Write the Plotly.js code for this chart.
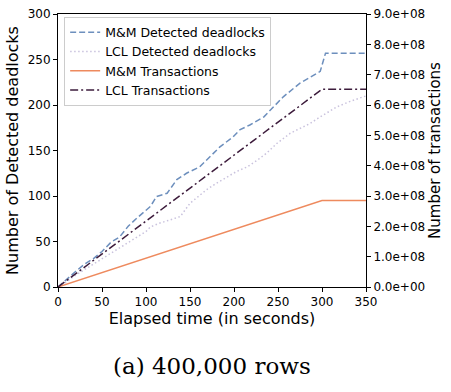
<!DOCTYPE html>
<html><head><meta charset="utf-8">
<script src="https://cdn.plot.ly/plotly-3.0.1.min.js"></script>
<style>body{margin:0;background:#fff}#c{width:451px;height:392px}</style>
</head><body><div id="c"></div>
<script>
// Elapsed time (s) and detected deadlocks
const mmTime = [0,10,20,30,40,50,60,70,80,90,100,105,112,124,135,146,161,173,184,199,207,218,234,245,256,275,287,298,304,350];
const mmDeadlocks = [0,9,17,25,31,39,49,55,67,76,84,88.5,99.5,103,118,125,132,143,154,165,173,178,187,198,209,224,231,237,257,257];
const lclTime = [0,10,20,30,40,50,60,70,80,90,100,105,115,125,139,150,160,169,180,192,203,215,226,237,249,264,276,287,298,308,317,332,347,350];
const lclDeadlocks = [0,6,13,19,25,31,37,43,49,55,61,66,70,73,77.5,92,100,107,114,121,127,132,139,147,158,169,175,180,187,193,198,204,209,210];
const txTime = [0,300,350];
const mmTransactions = [0,2.85e8,2.85e8];
const lclTransactions = [0,6.52e8,6.52e8];
const y2Ticks = [0,1e8,2e8,3e8,4e8,5e8,6e8,7e8,8e8,9e8];
const y2Labels = ["0.0e+00","1.0e+08","2.0e+08","3.0e+08","4.0e+08","5.0e+08","6.0e+08","7.0e+08","8.0e+08","9.0e+08"];

const traces = [
  {x: mmTime, y: mmDeadlocks, name: "M&M Detected deadlocks", mode: "lines",
   line: {color: "#6d8fbd", width: 1.5, dash: "6px,3px"}},
  {x: lclTime, y: lclDeadlocks, name: "LCL Detected deadlocks", mode: "lines",
   line: {color: "#c9c2dd", width: 1.5, dash: "1.5px,2.5px"}},
  {x: txTime, y: mmTransactions, name: "M&M Transactions", mode: "lines", yaxis: "y2",
   line: {color: "#ee8a5e", width: 1.5}},
  {x: txTime, y: lclTransactions, name: "LCL Transactions", mode: "lines", yaxis: "y2",
   line: {color: "#3d1c3c", width: 1.5, dash: "8px,3px,2px,3px"}}
];
const font = {family: "DejaVu Sans, sans-serif", size: 12, color: "#000"};
const layout = {
  width: 451, height: 392,
  margin: {l: 58, r: 85, t: 14, b: 105},
  paper_bgcolor: "#fff", plot_bgcolor: "#fff",
  font: font,
  showlegend: true,
  legend: {x: 0.02, y: 0.99, xanchor: "left", yanchor: "top",
    bgcolor: "rgba(255,255,255,0.8)", bordercolor: "#cccccc", borderwidth: 1,
    font: {family: "DejaVu Sans, sans-serif", size: 12.5}, tracegroupgap: 0},
  xaxis: {range: [0, 350], tickvals: [0,50,100,150,200,250,300,350],
    showgrid: false, zeroline: false, showline: true, linecolor: "#000", linewidth: 1,
    mirror: true, ticks: "outside", ticklen: 4, tickcolor: "#000",
    tickfont: {size: 12}, title: {text: "Elapsed time (in seconds)", font: {size: 16}, standoff: 1}},
  yaxis: {range: [0, 300], tickvals: [0,50,100,150,200,250,300],
    showgrid: false, zeroline: false, showline: true, linecolor: "#000", linewidth: 1,
    ticks: "outside", ticklen: 4, tickcolor: "#000", tickfont: {size: 12},
    title: {text: "Number of Detected deadlocks", font: {size: 16}, standoff: 5}},
  yaxis2: {range: [0, 9e8], overlaying: "y", side: "right", tickvals: y2Ticks, ticktext: y2Labels,
    showgrid: false, zeroline: false, showline: true, linecolor: "#000", linewidth: 1,
    ticks: "outside", ticklen: 4, tickcolor: "#000", tickfont: {size: 12},
    title: {text: "Number of transactions", font: {size: 15}, standoff: 5}},
  annotations: [{text: "(a) 400,000 rows", xref: "paper", yref: "paper", x: 0.5, y: -0.29,
    xanchor: "center", yanchor: "middle", showarrow: false,
    font: {family: "DejaVu Serif, Liberation Serif, serif", size: 23, color: "#000"}}]
};
Plotly.newPlot("c", traces, layout, {displayModeBar: false, staticPlot: true});
</script></body></html>
